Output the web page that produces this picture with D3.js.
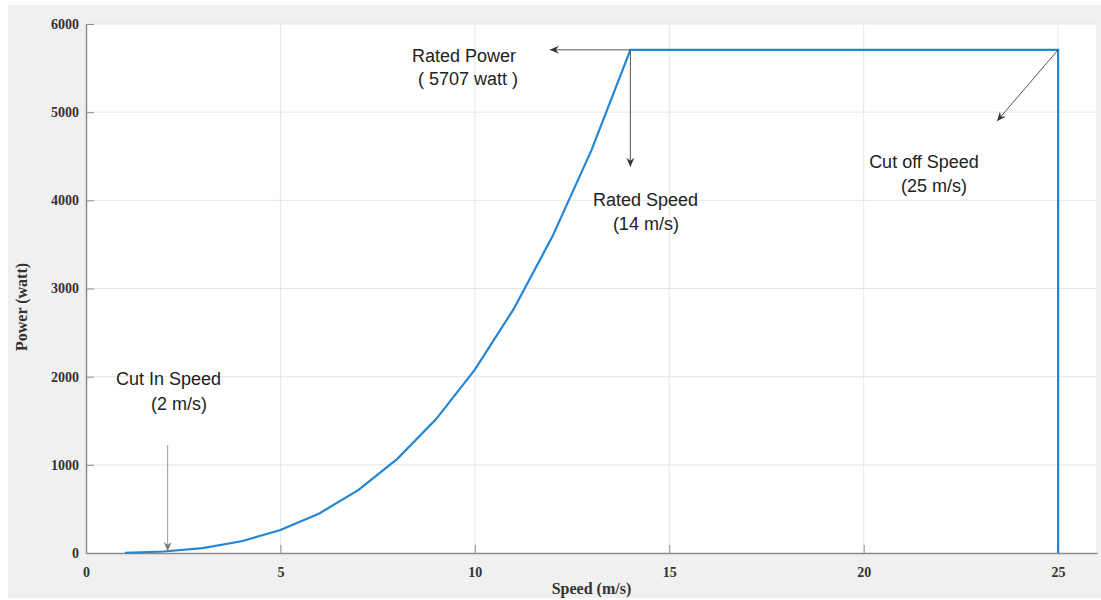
<!DOCTYPE html>
<html>
<head>
<meta charset="utf-8">
<script src="https://cdn.jsdelivr.net/npm/d3@7/dist/d3.min.js"></script>
<style>
  html, body { margin: 0; padding: 0; background: #ffffff; }
  svg { display: block; }
</style>
</head>
<body>
<script>
// Wind turbine power curve: power output vs. wind speed
const speeds = [1, 2, 3, 4, 5, 6, 7, 8, 9, 10, 11, 12, 13, 14, 25, 25];
const power  = [2, 17, 56, 133, 260, 449, 713, 1065, 1516, 2080, 2768, 3594, 4570, 5707, 5707, 0];

const xTicks = [0, 5, 10, 15, 20, 25];
const yTicks = [0, 1000, 2000, 3000, 4000, 5000, 6000];

// Annotation labels, left edge + baseline (data coordinates)
const labelLines = [
  { x: 8.385, y: 5569, text: "Rated Power" },
  { x: 8.54,  y: 5308, text: "( 5707 watt )" },
  { x: 13.04, y: 3936, text: "Rated Speed" },
  { x: 13.55, y: 3663, text: "(14 m/s)" },
  { x: 20.14, y: 4367, text: "Cut off Speed" },
  { x: 20.96, y: 4094, text: "(25 m/s)" },
  { x: 0.77,  y: 1905, text: "Cut In Speed" },
  { x: 1.67,  y: 1622, text: "(2 m/s)" }
];

// Arrows: from -> to (data coordinates)
const arrows = [
  { x1: 14,  y1: 5707, x2: 11.93, y2: 5707, dark: true },
  { x1: 14,  y1: 5707, x2: 14,    y2: 4380, dark: true },
  { x1: 25,  y1: 5707, x2: 23.43, y2: 4900, dark: true },
  { x1: 2.1, y1: 1225, x2: 2.1,   y2: 22,   dark: false }
];

const W = 1101, H = 600;
const svg = d3.select("body").append("svg").attr("width", W).attr("height", H);

// figure background
svg.append("rect").attr("x", 8).attr("y", 5).attr("width", W - 8).attr("height", H - 7)
  .attr("fill", "#f0f0f0");

const x = d3.scaleLinear().domain([0, 26]).range([86, 1097]);
const y = d3.scaleLinear().domain([0, 6000]).range([553, 24]);

// plot area
svg.append("rect")
  .attr("x", x(0)).attr("y", y(6000))
  .attr("width", x(26) - x(0)).attr("height", y(0) - y(6000))
  .attr("fill", "#ffffff");

// grid
const grid = svg.append("g");
grid.selectAll("line.gx").data(xTicks.filter(d => d > 0).concat([26])).enter().append("line")
  .attr("x1", d => x(d)).attr("x2", d => x(d))
  .attr("y1", y(0)).attr("y2", y(6000))
  .attr("stroke", "#e6e6e6").attr("stroke-width", 1);
grid.selectAll("line.gy").data(yTicks.filter(d => d > 0)).enter().append("line")
  .attr("x1", x(0)).attr("x2", x(26))
  .attr("y1", d => y(d)).attr("y2", d => y(d))
  .attr("stroke", "#e6e6e6").attr("stroke-width", 1);

// axes
const tickFont = "'Liberation Serif', 'Times New Roman', serif";
const xAxis = svg.append("g").attr("transform", `translate(0,${y(0)})`)
  .call(d3.axisBottom(x).tickValues(xTicks).tickFormat(d3.format("d"))
    .tickSizeInner(-8).tickSizeOuter(0).tickPadding(14));
const yAxis = svg.append("g").attr("transform", `translate(${x(0)},0)`)
  .call(d3.axisLeft(y).tickValues(yTicks).tickFormat(d3.format("d"))
    .tickSizeInner(-8).tickSizeOuter(0).tickPadding(7));

[xAxis, yAxis].forEach(g => {
  g.select(".domain").attr("stroke", "#8c8c8c").attr("stroke-width", 1.5);
  g.selectAll(".tick line").attr("stroke", "#8c8c8c").attr("stroke-width", 1);
  g.selectAll(".tick text")
    .attr("font-family", tickFont).attr("font-weight", "bold")
    .attr("font-size", 14).attr("fill", "#333333");
});

// axis titles
svg.append("text")
  .attr("x", (x(0) + x(26)) / 2).attr("y", 594)
  .attr("text-anchor", "middle")
  .attr("font-family", tickFont).attr("font-weight", "bold")
  .attr("font-size", 16).attr("fill", "#333333")
  .text("Speed (m/s)");
svg.append("text")
  .attr("transform", "translate(27,307) rotate(-90)")
  .attr("text-anchor", "middle")
  .attr("font-family", tickFont).attr("font-weight", "bold")
  .attr("font-size", 16).attr("fill", "#333333")
  .text("Power (watt)");

// power curve
const line = d3.line().x((d, i) => x(speeds[i])).y(d => y(d));
svg.append("path")
  .datum(power)
  .attr("d", line)
  .attr("fill", "none")
  .attr("stroke", "#2386d4")
  .attr("stroke-width", 2.2)
  .attr("stroke-linejoin", "miter");

// arrow markers
const defs = svg.append("defs");
[["dark", "#333333"], ["light", "#7a7a7a"]].forEach(([id, col]) => {
  defs.append("marker")
    .attr("id", "arrow-" + id)
    .attr("viewBox", "-10 -5 12 10")
    .attr("refX", 0).attr("refY", 0)
    .attr("markerWidth", 12).attr("markerHeight", 10)
    .attr("markerUnits", "userSpaceOnUse")
    .attr("orient", "auto")
    .append("path")
    .attr("d", "M0,0 L-9,-4 L-6,0 L-9,4 Z")
    .attr("fill", col);
});

svg.append("g").selectAll("line").data(arrows).enter().append("line")
  .attr("x1", d => x(d.x1)).attr("y1", d => y(d.y1))
  .attr("x2", d => x(d.x2)).attr("y2", d => y(d.y2))
  .attr("stroke", d => d.dark ? "#555555" : "#9a9a9a")
  .attr("stroke-width", 1)
  .attr("marker-end", d => d.dark ? "url(#arrow-dark)" : "url(#arrow-light)");

// annotation text
svg.append("g").selectAll("text").data(labelLines).enter().append("text")
  .attr("x", d => x(d.x)).attr("y", d => y(d.y))
  .attr("text-anchor", "start")
  .attr("font-family", "'Liberation Sans', Arial, sans-serif")
  .attr("font-size", 18)
  .attr("fill", "#222222")
  .text(d => d.text);
</script>
</body>
</html>
